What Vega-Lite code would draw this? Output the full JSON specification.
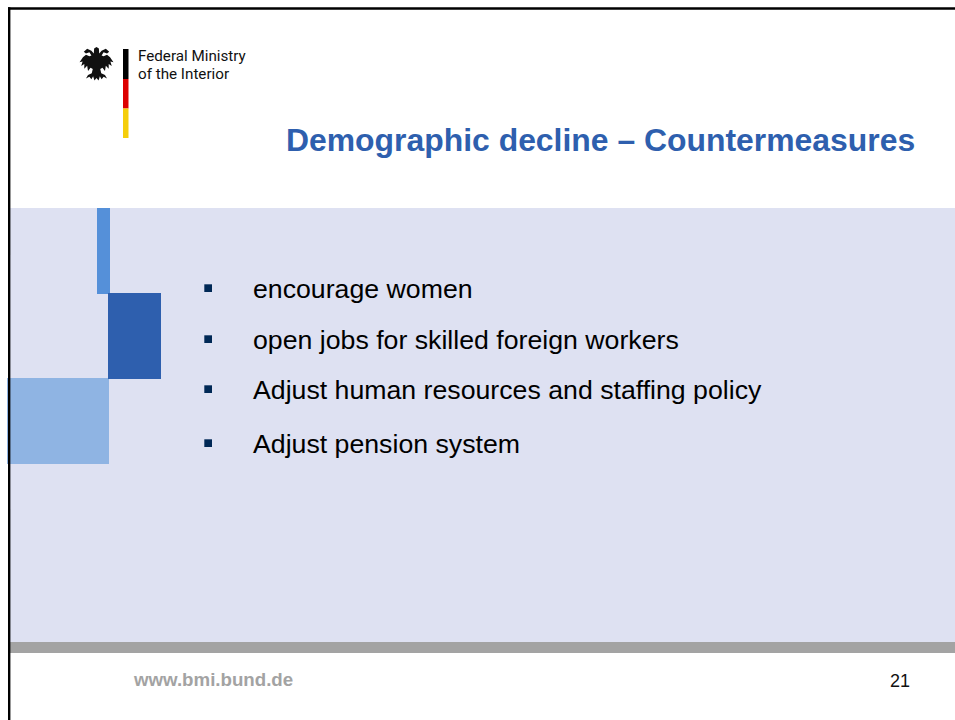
{"$schema":"https://vega.github.io/schema/vega-lite/v6.json","width":955,"height":720,"padding":0,"autosize":{"type":"fit","contains":"padding"},"background":"#ffffff","view":{"stroke":null},
"datasets":{"blocks":[
{"part":"band","left":10,"right":955,"top":208,"bottom":642},
{"part":"footer rule","left":8,"right":955,"top":642,"bottom":653},
{"part":"pale square","left":7,"right":109,"top":378,"bottom":464},
{"part":"frame","left":8,"right":955,"top":7.2,"bottom":9.8},
{"part":"frame","left":8,"right":10.4,"top":7.2,"bottom":720},
{"part":"flag black","left":123,"right":128.5,"top":49,"bottom":79},
{"part":"flag red","left":123,"right":128.5,"top":79,"bottom":108.5},
{"part":"flag gold","left":123,"right":128.5,"top":108.5,"bottom":138},
{"part":"mid strip","left":97,"right":110,"top":208,"bottom":294},
{"part":"dark square","left":108,"right":161,"top":293,"bottom":379},
{"part":"bullet","left":204.3,"right":212,"top":284.3,"bottom":292},
{"part":"bullet","left":204.3,"right":212,"top":335.3,"bottom":343},
{"part":"bullet","left":204.3,"right":212,"top":385.3,"bottom":393},
{"part":"bullet","left":204.3,"right":212,"top":439.3,"bottom":447}
],
"title":[{"label":"Demographic decline – Countermeasures","left":286,"base":151}],
"items":[
{"label":"encourage women","left":253,"base":298},
{"label":"open jobs for skilled foreign workers","left":253,"base":349},
{"label":"Adjust human resources and staffing policy","left":253,"base":399},
{"label":"Adjust pension system","left":253,"base":453}],
"org":[{"label":"Federal Ministry","left":138,"base":61},{"label":"of the Interior","left":138,"base":79}],
"site":[{"label":"www.bmi.bund.de","left":134,"base":686}],
"page":[{"label":"21","left":890,"base":687}],
"crest":[{"name":"eagle","left":96.5,"base":64}]},
"data":{"name":"blocks"},
"layer":[
{"mark":{"type":"rect"},"encoding":{
"x":{"field":"left","type":"quantitative","scale":{"domain":[0,955],"nice":false,"zero":false},"axis":null},
"x2":{"field":"right"},
"y":{"field":"top","type":"quantitative","scale":{"domain":[720,0],"nice":false,"zero":false},"axis":null},
"y2":{"field":"bottom"},
"color":{"field":"part","type":"nominal","legend":null,"scale":{"domain":["band","footer rule","frame","flag black","flag red","flag gold","pale square","mid strip","dark square","bullet"],"range":["#dee1f2","#a3a3a3","#000000","#000000","#dd0000","#f5ce0a","#8fb4e3","#5590d9","#2e5fae","#002856"]}}}},
{"data":{"name":"crest"},"mark":{"type":"point","filled":true,"opacity":1,"color":"#111111","strokeWidth":0,"size":1150,"shape":"M0 -1 L0.14 -0.92 L0.16 -0.62 L0.3 -0.78 L0.55 -0.9 L0.75 -0.72 L0.62 -0.62 L0.42 -0.7 L0.3 -0.5 L0.42 -0.45 L0.62 -0.55 L0.8 -0.4 L1 -0.1 L0.82 -0.15 L0.9 0.12 L0.72 0 L0.72 0.28 L0.55 0.1 L0.5 0.42 L0.35 0.22 L0.22 0.3 L0.28 0.55 L0.5 0.65 L0.62 0.85 L0.42 0.75 L0.3 0.9 L0.2 0.72 L0.12 0.98 L0 0.82 L-0.12 0.98 L-0.2 0.72 L-0.3 0.9 L-0.42 0.75 L-0.62 0.85 L-0.5 0.65 L-0.28 0.55 L-0.22 0.3 L-0.35 0.22 L-0.5 0.42 L-0.55 0.1 L-0.72 0.28 L-0.72 0 L-0.9 0.12 L-0.82 -0.15 L-1 -0.1 L-0.8 -0.4 L-0.62 -0.55 L-0.42 -0.45 L-0.3 -0.5 L-0.42 -0.7 L-0.62 -0.62 L-0.75 -0.72 L-0.55 -0.9 L-0.3 -0.78 L-0.16 -0.62 L-0.14 -0.92 Z"},"encoding":{"x":{"field":"left","type":"quantitative"},"y":{"field":"base","type":"quantitative"}}},
{"data":{"name":"title"},"mark":{"type":"text","align":"left","baseline":"alphabetic","font":"Liberation Sans","fontWeight":"bold","fontSize":31.9,"color":"#2e5fae"},"encoding":{"x":{"field":"left","type":"quantitative"},"y":{"field":"base","type":"quantitative"},"text":{"field":"label"}}},
{"data":{"name":"items"},"mark":{"type":"text","align":"left","baseline":"alphabetic","font":"Liberation Sans","fontSize":26.7,"color":"#000000"},"encoding":{"x":{"field":"left","type":"quantitative"},"y":{"field":"base","type":"quantitative"},"text":{"field":"label"}}},
{"data":{"name":"org"},"mark":{"type":"text","align":"left","baseline":"alphabetic","font":"Roboto","fontSize":15.2,"color":"#111111"},"encoding":{"x":{"field":"left","type":"quantitative"},"y":{"field":"base","type":"quantitative"},"text":{"field":"label"}}},
{"data":{"name":"site"},"mark":{"type":"text","align":"left","baseline":"alphabetic","font":"Liberation Sans","fontWeight":"bold","fontSize":18.7,"color":"#a3a3a3"},"encoding":{"x":{"field":"left","type":"quantitative"},"y":{"field":"base","type":"quantitative"},"text":{"field":"label"}}},
{"data":{"name":"page"},"mark":{"type":"text","align":"left","baseline":"alphabetic","font":"Liberation Sans","fontSize":18,"color":"#111111"},"encoding":{"x":{"field":"left","type":"quantitative"},"y":{"field":"base","type":"quantitative"},"text":{"field":"label"}}}
]}
